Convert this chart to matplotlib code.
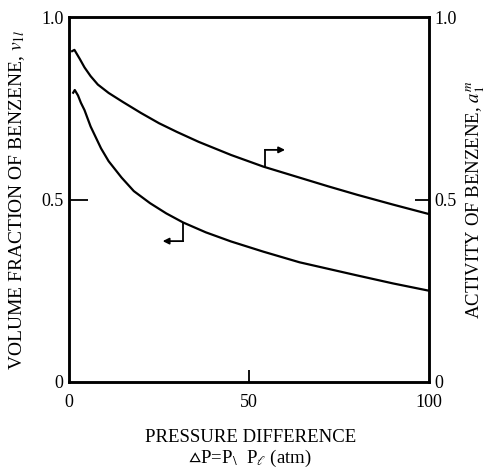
import numpy as np
import matplotlib
matplotlib.use('Agg')
import matplotlib.pyplot as plt
from matplotlib import rcParams

# ===== 数据 =====
# 上曲线: 苯活度 a1m (右轴)
dp_act = [0.6, 1.5, 3, 4.3, 6, 8, 11, 15, 20, 25, 30, 36, 45, 54, 64, 72, 80, 90, 100]
act = [0.905, 0.91, 0.885, 0.862, 0.838, 0.815, 0.792, 0.767, 0.737, 0.709, 0.685,
       0.658, 0.622, 0.59, 0.56, 0.536, 0.513, 0.486, 0.46]
# 下曲线: 苯体积分数 v1l (左轴)
dp_vol = [1.0, 1.6, 2.5, 3.3, 4.3, 6, 8.9, 11, 14.6, 18, 22.5, 27, 31.7, 38, 45,
          54, 64, 72, 80, 90, 100]
vol = [0.79, 0.80, 0.785, 0.765, 0.745, 0.70, 0.64, 0.605, 0.56, 0.523, 0.49, 0.462,
       0.437, 0.41, 0.385, 0.357, 0.328, 0.31, 0.292, 0.27, 0.25]

# 指示箭头: (曲线上的x, 曲线y, 折点y, 箭头终点x)
arrow_act = (54.4, 0.589, 0.636, 60)
arrow_vol = (31.7, 0.437, 0.386, 26)

x_ticks = [0, 50, 100]
y_ticks = [0, 0.5, 1.0]
y_ticklabels = ['0', '0.5', '1.0']

rcParams['font.family'] = ['Liberation Serif', 'DejaVu Serif']
rcParams['mathtext.fontset'] = 'stix'

fig = plt.figure(figsize=(4.86, 4.73), dpi=100)
ax = fig.add_axes([0.142, 0.1924, 0.741, 0.7716])
ax2 = ax.twinx()

lw = 1.6
ax.plot(dp_vol, vol, color='black', lw=lw, solid_capstyle='butt', solid_joinstyle='round')
ax2.plot(dp_act, act, color='black', lw=lw, solid_capstyle='butt', solid_joinstyle='round')

for a, tgt in ((arrow_act, ax2), (arrow_vol, ax)):
    x0, y0, y1, x1 = a
    tgt.plot([x0, x0], [y0, y1], color='black', lw=1.3)
    tgt.annotate('', xy=(x1, y1), xytext=(x0, y1),
                 arrowprops=dict(arrowstyle='-|>', color='black', lw=1.3,
                                 mutation_scale=9, shrinkA=0, shrinkB=0))

for a in (ax, ax2):
    a.set_xlim(0, 100)
    a.set_ylim(0, 1.0)
    for s in a.spines.values():
        s.set_linewidth(1.8)

ax.set_xticks(x_ticks)
ax.set_yticks(y_ticks)
ax.set_yticklabels(y_ticklabels)
ax2.set_yticks(y_ticks)
ax2.set_yticklabels(y_ticklabels)
ax.tick_params(axis='both', direction='in', length=0, labelsize=13, width=1.3)
ax.tick_params(axis='x', pad=9)
ax.tick_params(axis='y', pad=4)
ax2.tick_params(axis='y', direction='in', length=0, labelsize=13, width=1.3, pad=4)
# 只在 0.5 / 50 处画刻度
ax.yaxis.get_major_ticks()[1].tick1line.set_markersize(14)
ax2.yaxis.get_major_ticks()[1].tick2line.set_markersize(10)
ax.xaxis.get_major_ticks()[1].tick1line.set_markersize(9)

ax.set_ylabel(r'VOLUME FRACTION OF BENZENE, $v_{1l}$', fontsize=14, labelpad=10)
ax2.set_ylabel(r'ACTIVITY OF BENZENE, $a_1^{m}$', fontsize=13.5, labelpad=5)

fig.text(0.515, 0.076, 'PRESSURE DIFFERENCE', ha='center', va='center', fontsize=13.5)
fig.text(0.515, 0.030, r'$\vartriangle$P=P$_{\backslash}$  P$_{\ell}$ (atm)',
         ha='center', va='center', fontsize=13.5)

fig.savefig('out.png', dpi=100)
